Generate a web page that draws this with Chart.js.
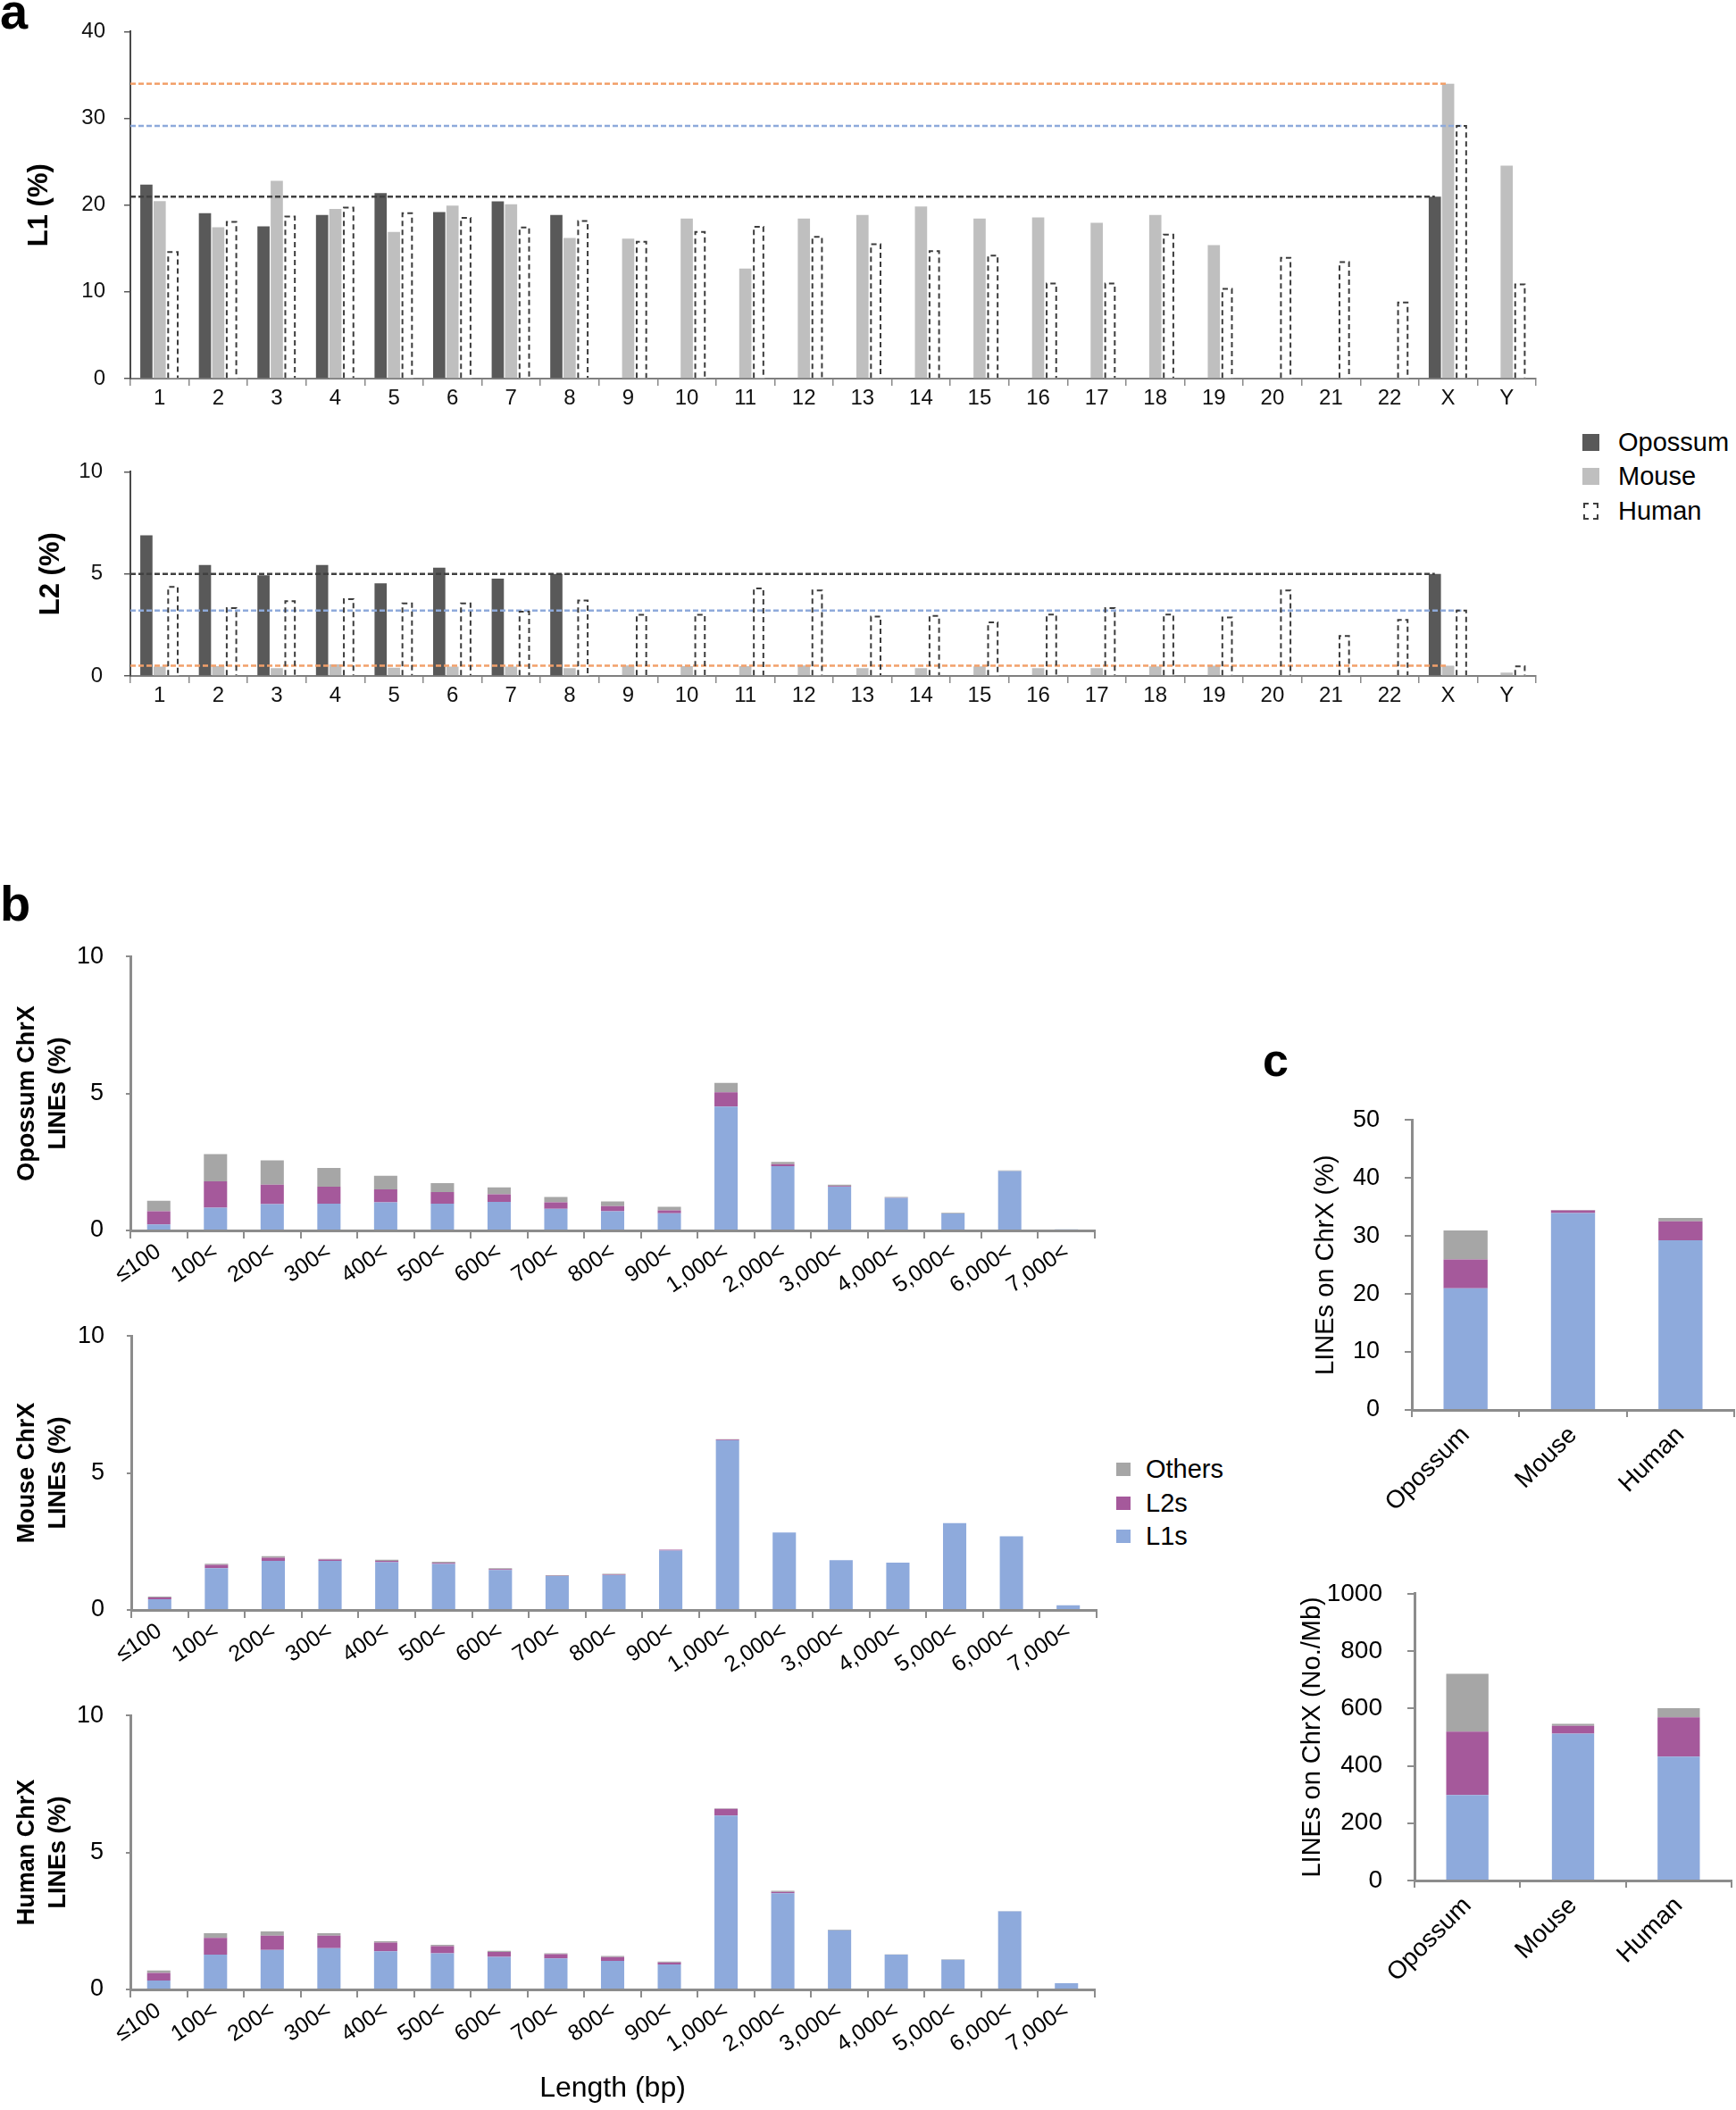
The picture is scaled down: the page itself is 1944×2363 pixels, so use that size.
<!DOCTYPE html>
<html>
<head>
<meta charset="utf-8">
<script src="https://cdn.jsdelivr.net/npm/chart.js@4.4.1/dist/chart.umd.min.js"></script>
<style>
  body { margin: 0; background: #fff; font-family: 'Liberation Sans', Arial, Helvetica, sans-serif; }
  #page { position: relative; width: 1944px; height: 2363px; overflow: hidden; }
  canvas { position: absolute; }
  .panel { position: absolute; font-weight: bold; line-height: 1; }
  .legend { position: absolute; font-size: 29px; color: #000; }
  .legend .row { display: flex; align-items: center; }
  .sw { display: inline-block; box-sizing: border-box; }
</style>
</head>
<body>
<div id="page">
  <div class="panel" style="left:0px;top:-15px;font-size:56px">a</div>
  <div class="panel" style="left:0px;top:984px;font-size:56px">b</div>
  <div class="panel" style="left:1414px;top:1161px;font-size:52px">c</div>

  <canvas id="chartL1" width="1735" height="470" style="left:0;top:0"></canvas>
  <canvas id="chartL2" width="1735" height="320" style="left:0;top:490px"></canvas>

  <div class="legend" style="left:1772px;top:476px">
    <div class="row" style="height:38.5px"><span class="sw" style="width:19px;height:19px;background:#595959;margin-right:21px"></span>Opossum</div>
    <div class="row" style="height:38.5px"><span class="sw" style="width:19px;height:19px;background:#bfbfbf;margin-right:21px"></span>Mouse</div>
    <div class="row" style="height:38.5px"><span class="sw" style="width:17px;height:19px;border:2px dashed #404040;margin-left:1px;margin-right:22px"></span>Human</div>
  </div>

  <canvas id="chartOpo" width="1245" height="440" style="left:0;top:1030px"></canvas>
  <canvas id="chartMou" width="1245" height="440" style="left:0;top:1455px"></canvas>
  <canvas id="chartHum" width="1245" height="483" style="left:0;top:1880px"></canvas>

  <div class="legend" style="left:1250px;top:1627px">
    <div class="row" style="height:37.5px"><span class="sw" style="width:16px;height:15px;background:#a6a6a6;margin-right:17px"></span>Others</div>
    <div class="row" style="height:37.5px"><span class="sw" style="width:16px;height:15px;background:#a5599b;margin-right:17px"></span>L2s</div>
    <div class="row" style="height:37.5px"><span class="sw" style="width:16px;height:15px;background:#8eaadc;margin-right:17px"></span>L1s</div>
  </div>

  <canvas id="chartPct" width="514" height="490" style="left:1430px;top:1210px"></canvas>
  <canvas id="chartDens" width="514" height="490" style="left:1430px;top:1740px"></canvas>
</div>

<script>
// panel a: chromosomes
const chrLabels = ['1','2','3','4','5','6','7','8','9','10','11','12','13','14','15','16','17','18','19','20','21','22','X','Y'];

const l1Opossum = [22.35, 19.06, 17.55, 18.85, 21.39, 19.19, 20.43, 18.85, null, null, null, null, null, null, null, null, null, null, null, null, null, null, 20.96, null];
const l1Mouse = [20.46, 17.45, 22.8, 19.57, 16.9, 19.95, 20.09, 16.21, 16.14, 18.44, 12.68, 18.44, 18.85, 19.85, 18.44, 18.58, 17.96, 18.85, 15.39, null, null, null, 34.0, 24.54];
const l1Human = [14.6, 18.06, 18.68, 19.7, 19.06, 18.54, 17.41, 18.17, 15.77, 16.9, 17.51, 16.35, 15.49, 14.7, 14.19, 10.97, 10.97, 16.59, 10.35, 13.92, 13.44, 8.77, 29.12, 10.87];

const l2Opossum = [6.89, 5.44, 4.93, 5.44, 4.54, 5.3, 4.77, 5.0, null, null, null, null, null, null, null, null, null, null, null, null, null, null, 5.0, null];
const l2Mouse = [0.46, 0.48, 0.38, 0.57, 0.41, 0.46, 0.46, 0.38, 0.51, 0.48, 0.48, 0.51, 0.38, 0.38, 0.47, 0.38, 0.38, 0.47, 0.5, null, null, null, 0.5, 0.16];
const l2Human = [4.36, 3.32, 3.66, 3.76, 3.55, 3.55, 3.15, 3.7, 3.0, 3.0, 4.29, 4.19, 2.91, 2.94, 2.63, 3.01, 3.32, 3.01, 2.87, 4.19, 1.96, 2.74, 3.2, 0.47];

// panel b: length classes
const lengthLabels = ['≤100','100<','200<','300<','400<','500<','600<','700<','800<','900<','1,000<','2,000<','3,000<','4,000<','5,000<','6,000<','7,000<'];

const opoL1 = [0.22, 0.83, 0.96, 0.98, 1.03, 0.98, 1.04, 0.79, 0.70, 0.63, 4.52, 2.35, 1.60, 1.19, 0.62, 2.17, 0.04];
const opoL2 = [0.48, 0.96, 0.71, 0.62, 0.47, 0.42, 0.28, 0.24, 0.19, 0.10, 0.52, 0.07, 0.02, 0.01, 0, 0, 0];
const opoOthers = [0.38, 1.0, 0.89, 0.68, 0.50, 0.33, 0.25, 0.19, 0.17, 0.13, 0.35, 0.08, 0.05, 0.02, 0.02, 0.02, 0];

const mouL1 = [0.39, 1.52, 1.79, 1.79, 1.74, 1.68, 1.46, 1.24, 1.27, 2.17, 6.19, 2.83, 1.82, 1.73, 3.17, 2.69, 0.17];
const mouL2 = [0.07, 0.13, 0.12, 0.05, 0.05, 0.04, 0.03, 0.01, 0.02, 0.03, 0.03, 0, 0, 0, 0, 0, 0];
const mouOthers = [0.03, 0.04, 0.05, 0.03, 0.04, 0.04, 0.03, 0.02, 0.03, 0, 0.01, 0, 0, 0, 0, 0, 0];

const humL1 = [0.33, 1.27, 1.44, 1.51, 1.39, 1.32, 1.19, 1.13, 1.04, 0.91, 6.35, 3.51, 2.16, 1.27, 1.08, 2.85, 0.23];
const humL2 = [0.27, 0.61, 0.52, 0.45, 0.32, 0.26, 0.18, 0.16, 0.14, 0.08, 0.24, 0.05, 0, 0, 0, 0, 0];
const humOthers = [0.09, 0.17, 0.16, 0.09, 0.05, 0.05, 0.04, 0.03, 0.04, 0.03, 0.02, 0.04, 0.02, 0.01, 0.02, 0.01, 0];

// panel c: whole ChrX
const speciesLabels = ['Opossum', 'Mouse', 'Human'];
const pctL1 = [20.97, 33.94, 29.23];
const pctL2 = [4.97, 0.46, 3.29];
const pctOthers = [5.01, 0.1, 0.56];
const densL1 = [298, 512, 432];
const densL2 = [221, 27, 137];
const densOthers = [202, 7, 32];

const FONT = "'Liberation Sans', Arial, Helvetica, sans-serif";
Chart.defaults.font.family = FONT;
Chart.defaults.color = '#000';

const L1_BLUE = '#8eaadc';
const L2_PURPLE = '#a5599b';
const OTHER_GRAY = '#a6a6a6';

// dashed outline for the human bars (Chart.js bars have no dashed border)
const humanOutline = {
    id: 'humanOutline',
    afterDatasetsDraw(chart) {
        const meta = chart.getDatasetMeta(2);
        const values = chart.data.datasets[2].data;
        const ctx = chart.ctx;
        ctx.save();
        ctx.strokeStyle = '#3c3c3c';
        ctx.lineWidth = 2;
        ctx.setLineDash([6, 4]);
        meta.data.forEach((bar, i) => {
            if (values[i] == null) return;
            const p = bar.getProps(['x', 'y', 'base', 'width'], true);
            const l = p.x - p.width / 2 + 1.5;
            const r = p.x + p.width / 2 - 1.5;
            ctx.beginPath();
            ctx.moveTo(l, p.base);
            ctx.lineTo(l, p.y);
            ctx.lineTo(r, p.y);
            ctx.lineTo(r, p.base);
            ctx.stroke();
        });
        ctx.restore();
    }
};

// dashed level lines from the axis to each species' ChrX bar
const xLevelLines = {
    id: 'xLevelLines',
    afterDatasetsDraw(chart) {
        const colors = ['#404040', '#f2a06a', '#8eaadb'];
        const xi = chrLabels.indexOf('X');
        const yScale = chart.scales.y;
        const left = chart.chartArea.left;
        const ctx = chart.ctx;
        ctx.save();
        ctx.lineWidth = 2.5;
        ctx.setLineDash([6, 3]);
        [1, 2, 0].forEach(ds => {
            const value = chart.data.datasets[ds].data[xi];
            const bar = chart.getDatasetMeta(ds).data[xi];
            const py = yScale.getPixelForValue(value);
            ctx.strokeStyle = colors[ds];
            ctx.beginPath();
            ctx.moveTo(left, py);
            ctx.lineTo(bar.x, py);
            ctx.stroke();
        });
        ctx.restore();
    }
};

function createChrChart(id, opo, mou, hum, yMax, yStep, title, box) {
    const ctx = document.getElementById(id).getContext('2d');
    new Chart(ctx, {
        type: 'bar',
        data: {
            labels: chrLabels,
            datasets: [
                { label: 'Opossum', data: opo, backgroundColor: '#595959' },
                { label: 'Mouse', data: mou, backgroundColor: '#bfbfbf' },
                { label: 'Human', data: hum, backgroundColor: '#ffffff' }
            ]
        },
        options: {
            responsive: false,
            animation: false,
            layout: { padding: { top: box.top, right: box.right, left: 0, bottom: 0 } },
            datasets: { bar: { categoryPercentage: 0.68, barPercentage: 0.92 } },
            plugins: { legend: { display: false }, tooltip: { enabled: false } },
            scales: {
                x: {
                    grid: { drawOnChartArea: false, drawTicks: true, tickLength: 8, color: '#8a8a8a', lineWidth: 1.5 },
                    border: { color: '#7f7f7f', width: 2 },
                    ticks: { font: { size: 24 }, color: '#111', maxRotation: 0, autoSkip: false, padding: 0 },
                    afterFit: s => { s.height = box.xh; }
                },
                y: {
                    min: 0,
                    max: yMax,
                    grid: { drawOnChartArea: false, drawTicks: true, tickLength: 7, color: '#595959', lineWidth: 1.5 },
                    border: { color: '#4a4a4a', width: 2 },
                    ticks: { stepSize: yStep, font: { size: 24 }, color: '#111', padding: box.tickPad },
                    title: { display: true, text: title, font: { size: 31, weight: 'bold' }, padding: { top: box.titlePad, bottom: 0 } },
                    afterFit: s => { s.width = box.yw; }
                }
            }
        },
        plugins: [xLevelLines, humanOutline]
    });
}

function stackedScales(cfg) {
    return {
        x: {
            stacked: true,
            grid: { drawOnChartArea: false, drawTicks: true, tickLength: cfg.xTick, color: '#8c8c8c', lineWidth: 2 },
            border: { color: '#8c8c8c', width: 3 },
            ticks: { font: { size: cfg.xFont }, color: '#000', minRotation: cfg.rot, maxRotation: cfg.rot, autoSkip: false, padding: cfg.xPad },
            title: cfg.xTitle ? { display: true, text: cfg.xTitle, font: { size: 32 }, padding: { top: 0, bottom: 5 } } : { display: false },
            afterFit: s => { s.height = cfg.xh; }
        },
        y: {
            stacked: true,
            min: 0,
            max: cfg.yMax,
            grid: { drawOnChartArea: false, drawTicks: true, tickLength: cfg.yTick, color: '#8c8c8c', lineWidth: 2 },
            border: { color: '#8c8c8c', width: 3 },
            ticks: { stepSize: cfg.yStep, font: { size: cfg.yFont }, color: '#000', padding: cfg.tickPad, callback: v => String(v) },
            title: { display: true, text: cfg.title, font: { size: cfg.titleSize, weight: cfg.titleWeight, lineHeight: 1.3 }, padding: { top: cfg.titlePad, bottom: 0 } },
            afterFit: s => { s.width = cfg.yw; }
        }
    };
}

function createStackedChart(id, labels, l1, l2, others, cfg) {
    const ctx = document.getElementById(id).getContext('2d');
    new Chart(ctx, {
        type: 'bar',
        data: {
            labels: labels,
            datasets: [
                { label: 'L1s', data: l1, backgroundColor: L1_BLUE },
                { label: 'L2s', data: l2, backgroundColor: L2_PURPLE },
                { label: 'Others', data: others, backgroundColor: OTHER_GRAY }
            ]
        },
        options: {
            responsive: false,
            animation: false,
            layout: { padding: { top: cfg.top, right: cfg.right, left: 0, bottom: 0 } },
            datasets: { bar: { categoryPercentage: cfg.barPct, barPercentage: 1 } },
            plugins: { legend: { display: false }, tooltip: { enabled: false } },
            scales: stackedScales(cfg)
        }
    });
}

createChrChart('chartL1', l1Opossum, l1Mouse, l1Human, 40, 10, 'L1 (%)',
    { top: 35, right: 15, xh: 46, yw: 146, tickPad: 21, titlePad: 26 });
createChrChart('chartL2', l2Opossum, l2Mouse, l2Human, 10, 5, 'L2 (%)',
    { top: 33, right: 15, xh: 53, yw: 146, tickPad: 24, titlePad: 39 });

const lengthBase = { barPct: 0.41, yMax: 10, yStep: 5, yFont: 27, xFont: 25, rot: 34, xTick: 9, xPad: 0, yTick: 5,
    tickPad: 25, titleSize: 27, titleWeight: 'bold', titlePad: 13 };

createStackedChart('chartOpo', lengthLabels, opoL1, opoL2, opoOthers,
    Object.assign({}, lengthBase, { top: 36, right: 19, xh: 92, yw: 146, title: ['Opossum ChrX', 'LINEs (%)'] }));
createStackedChart('chartMou', lengthLabels, mouL1, mouL2, mouOthers,
    Object.assign({}, lengthBase, { top: 35, right: 17, xh: 92, yw: 147, title: ['Mouse ChrX', 'LINEs (%)'] }));
createStackedChart('chartHum', lengthLabels, humL1, humL2, humOthers,
    Object.assign({}, lengthBase, { top: 38, right: 19, xh: 135, yw: 146, title: ['Human ChrX', 'LINEs (%)'], xTitle: 'Length (bp)' }));

createStackedChart('chartPct', speciesLabels, pctL1, pctL2, pctOthers,
    { barPct: 0.41, yMax: 50, yStep: 10, yFont: 27, xFont: 28, rot: 45, xTick: 8, xPad: 4, yTick: 8, tickPad: 28,
      titleSize: 29, titleWeight: 'normal', titlePad: 36, top: 40, right: 2, xh: 121, yw: 151, title: 'LINEs on ChrX (%)' });
createStackedChart('chartDens', speciesLabels, densL1, densL2, densOthers,
    { barPct: 0.40, yMax: 1000, yStep: 200, yFont: 28, xFont: 28, rot: 45, xTick: 8, xPad: 4, yTick: 8, tickPad: 28,
      titleSize: 29, titleWeight: 'normal', titlePad: 21, top: 33, right: 5, xh: 124, yw: 154, title: 'LINEs on ChrX (No./Mb)' });
</script>
</body>
</html>
